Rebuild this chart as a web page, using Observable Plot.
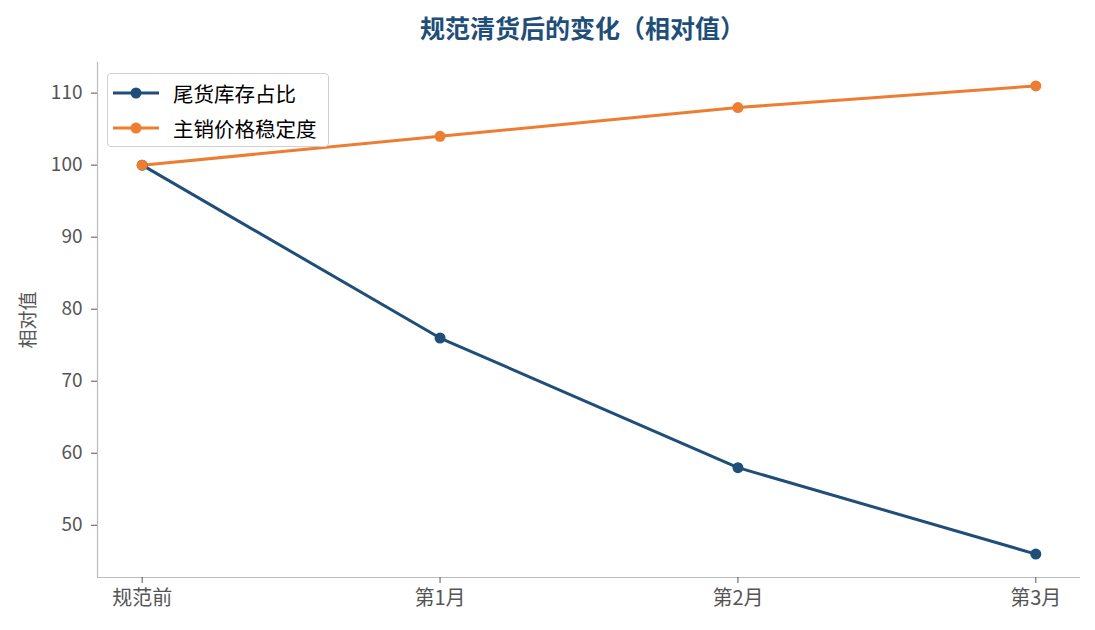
<!DOCTYPE html>
<html><head><meta charset="utf-8">
<script src="https://cdn.jsdelivr.net/npm/d3@7"></script>
<script src="https://cdn.jsdelivr.net/npm/@observablehq/plot@0.6"></script>
<style>
body{margin:0;background:#fff;font-family:"Noto Sans CJK SC","Noto Sans",sans-serif;}
#wrap{position:relative;width:1095px;height:630px;}
#title{height:50px;width:1095px;box-sizing:border-box;padding-left:70px;text-align:center;font-size:25px;font-weight:bold;color:#1f4e79;line-height:54px;}
#legend{position:absolute;left:107px;top:73px;width:222px;height:74px;border:1px solid #d0d0d0;border-radius:4px;background:rgba(255,255,255,0.85);box-sizing:border-box;}
.item{position:absolute;left:0;height:30px;display:flex;align-items:center;font-size:20.5px;color:#000;}
.item svg{margin-left:5px;margin-right:14px;}
#ylab{position:absolute;left:26px;top:320px;transform:translate(-50%,-50%) rotate(-90deg);font-size:19px;color:#555;white-space:nowrap;}
</style></head>
<body><div id="wrap"><div id="title">规范清货后的变化（相对值）</div><div id="chart"></div>
<div id="ylab">相对值</div>
<div id="legend"></div></div>
<script>
const categories = ["规范前", "第1月", "第2月", "第3月"];
const seriesNames = ["尾货库存占比", "主销价格稳定度"];
const stockShare = [100, 76, 58, 46];
const priceStability = [100, 104, 108, 111];
const yTicks = [50, 60, 70, 80, 90, 100, 110];
const colors = ["#1f4e79", "#ed7d31"];

const data = [];
categories.forEach((c, i) => {
  data.push({i, cat: c, series: seriesNames[0], value: stockShare[i]});
  data.push({i, cat: c, series: seriesNames[1], value: priceStability[i]});
});
const xDom = [-0.15, 3.15];
const yDom = [42.75, 114.25];

const chart = Plot.plot({
  width: 1095, height: 580,
  marginTop: 12, marginBottom: 53, marginLeft: 97, marginRight: 15,
  style: {fontFamily: '"Noto Sans CJK SC","Noto Sans",sans-serif', fontSize: "19px", color: "#555", background: "#fff"},
  x: {domain: xDom, axis: null},
  y: {domain: yDom, axis: null},
  color: {domain: seriesNames, range: colors},
  marks: [
    Plot.ruleX([xDom[0]], {stroke: "#bbb", strokeWidth: 1.2}),
    Plot.ruleY([yDom[0]], {stroke: "#bbb", strokeWidth: 1.2}),
    Plot.axisY({ticks: yTicks, tickSize: 6, tickPadding: 9, stroke: "#555", fill: "#555", fontSize: 19, label: null}),
    Plot.axisX({ticks: categories.map((_, i) => i), tickFormat: i => categories[i], tickSize: 6, tickPadding: 7, stroke: "#555", fill: "#555", fontSize: 20, label: null}),
    Plot.line(data, {x: "i", y: "value", z: "series", stroke: "series", strokeWidth: 3}),
    Plot.dot(data, {x: "i", y: "value", fill: "series", r: 5.5})
  ]
});
document.getElementById("chart").appendChild(chart);

const leg = document.getElementById("legend");
seriesNames.forEach((s, k) => {
  const d = document.createElement("div");
  d.className = "item";
  d.style.top = (4 + k * 35) + "px";
  d.innerHTML = `<svg width="46" height="12"><line x1="0" y1="6" x2="46" y2="6" stroke="${colors[k]}" stroke-width="3"/><circle cx="23" cy="6" r="5.5" fill="${colors[k]}"/></svg><span>${s}</span>`;
  leg.appendChild(d);
});
</script></body></html>
